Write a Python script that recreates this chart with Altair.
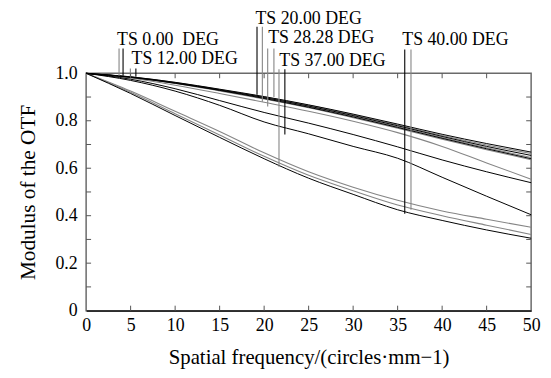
import altair as alt
import pandas as pd

# ---------------- data ----------------
freq = [0, 5, 10, 15, 20, 25, 30, 35, 40, 45, 50]

mtf_0T  = [1, 0.985, 0.962, 0.933, 0.902, 0.867, 0.828, 0.786, 0.743, 0.704, 0.668]
mtf_0S  = [1, 0.985, 0.961, 0.932, 0.900, 0.865, 0.825, 0.782, 0.738, 0.698, 0.662]
mtf_12T = [1, 0.984, 0.960, 0.930, 0.898, 0.862, 0.822, 0.779, 0.734, 0.692, 0.654]
mtf_12S = [1, 0.984, 0.959, 0.929, 0.896, 0.860, 0.819, 0.775, 0.729, 0.686, 0.645]
mtf_20T = [1, 0.983, 0.958, 0.928, 0.894, 0.857, 0.816, 0.772, 0.726, 0.682, 0.640]
mtf_20S = [1, 0.980, 0.950, 0.915, 0.878, 0.840, 0.798, 0.750, 0.692, 0.622, 0.554]
mtf_28T = [1, 0.975, 0.935, 0.885, 0.835, 0.790, 0.742, 0.690, 0.635, 0.585, 0.539]
mtf_28S = [1, 0.982, 0.957, 0.926, 0.892, 0.855, 0.813, 0.769, 0.722, 0.678, 0.636]
mtf_37T = [1, 0.970, 0.925, 0.865, 0.795, 0.745, 0.692, 0.642, 0.562, 0.482, 0.404]
mtf_37S = [1, 0.925, 0.840, 0.755, 0.665, 0.585, 0.520, 0.465, 0.420, 0.385, 0.351]
mtf_40S = [1, 0.920, 0.830, 0.740, 0.650, 0.570, 0.505, 0.445, 0.400, 0.360, 0.321]
mtf_40T = [1, 0.915, 0.822, 0.730, 0.640, 0.558, 0.490, 0.425, 0.380, 0.340, 0.305]

curve_names = ["0T", "0S", "12T", "12S", "20T", "20S", "28T", "28S", "37T", "37S", "40T", "40S"]
curve_shades = ["black", "gray", "black", "gray", "black", "gray", "black", "gray", "black", "gray", "black", "gray"]
curve_values = [mtf_0T, mtf_0S, mtf_12T, mtf_12S, mtf_20T, mtf_20S, mtf_28T, mtf_28S,
                mtf_37T, mtf_37S, mtf_40T, mtf_40S]

# field labels and their leader lines
label_text = ["TS 0.00\u00a0 DEG", "TS 12.00 DEG", "TS 20.00 DEG", "TS 28.28 DEG", "TS 37.00 DEG", "TS 40.00 DEG"]
label_freq = [3.48, 5.1, 19.03, 20.45, 21.7, 35.52]
label_mtf = [1.142, 1.058, 1.229, 1.15, 1.05, 1.142]

leader_freq = [3.7, 4.15, 4.97, 5.59, 19.2, 19.8, 20.4, 21.1, 21.67, 22.33, 35.8, 36.5]
leader_top = [1.104, 1.104, 1.02, 1.02, 1.196, 1.196, 1.104, 1.104, 1.017, 1.017, 1.1, 1.1]
leader_bottom = [0.99, 0.99, 0.985, 0.985, 0.91, 0.88, 0.86, 0.90, 0.606, 0.742, 0.408, 0.425]
leader_shade = ["gray", "black", "gray", "black", "black", "gray", "gray", "gray", "gray", "black", "black", "gray"]

x_ticks = [0, 5, 10, 15, 20, 25, 30, 35, 40, 45, 50]
y_ticks = [0, 0.1, 0.2, 0.3, 0.4, 0.5, 0.6, 0.7, 0.8, 0.9, 1.0]
y_labels = [0, 0.2, 0.4, 0.6, 0.8, 1.0]

# ---------------- tables ----------------
rows = []
for name, shade, vals in zip(curve_names, curve_shades, curve_values):
    for f, v in zip(freq, vals):
        rows.append({"curve": name, "shade": shade, "freq": f, "mtf": v})
df = pd.DataFrame(rows)

leaders = pd.DataFrame({"freq": leader_freq, "mtf": leader_bottom, "top": leader_top,
                        "shade": leader_shade})
labels = pd.DataFrame({"text": label_text, "freq": label_freq, "mtf": label_mtf})
xt = pd.DataFrame({"freq": x_ticks[1:-1]})
yt = pd.DataFrame({"mtf": y_ticks[1:-1]})

FONT = "Liberation Serif"
shade_scale = alt.Scale(domain=["black", "gray"], range=["#000000", "#858585"])
xscale = alt.Scale(domain=[0, 50], nice=False, zero=False)
yscale = alt.Scale(domain=[0, 1], nice=False, zero=False)

x_axis = alt.Axis(values=x_ticks, ticks=False, grid=False, domain=True, domainColor="#000000",
                  domainWidth=1.2, labelFont=FONT, labelFontSize=18, labelColor="#000",
                  labelPadding=6, labelFlush=False,
                  titleFont=FONT, titleFontSize=21, titleFontWeight="normal", titleColor="#000",
                  titlePadding=12)
y_axis = alt.Axis(values=y_labels, ticks=False, grid=False, domain=False,
                  labelExpr="datum.value == 0 ? '0' : format(datum.value, '.1f')",
                  labelFont=FONT, labelFontSize=18, labelColor="#000", labelPadding=9,
                  labelFlush=False,
                  titleFont=FONT, titleFontSize=21.5,
                  titleFontWeight="normal", titleColor="#000", titlePadding=16)

XT = "Spatial frequency/(circles\u00b7mm\u22121)"
YT = "Modulus of the OTF"


def X():
    return alt.X("freq:Q", scale=xscale, axis=x_axis, title=XT)


def Y():
    return alt.Y("mtf:Q", scale=yscale, axis=y_axis, title=YT)


base = alt.Chart(df)

gray_lines = base.transform_filter(alt.datum.shade == "gray").mark_line(
    strokeWidth=1.1, interpolate="monotone").encode(
    x=X(), y=Y(),
    detail="curve:N",
    color=alt.Color("shade:N", scale=shade_scale, legend=None),
)
black_lines = base.transform_filter(alt.datum.shade == "black").mark_line(
    strokeWidth=1.0, interpolate="monotone").encode(
    x=X(), y=Y(),
    detail="curve:N",
    color=alt.Color("shade:N", scale=shade_scale, legend=None),
)

leader_rules = alt.Chart(leaders).mark_rule(strokeWidth=1.1).encode(
    x=X(), y=Y(), y2="top:Q",
    color=alt.Color("shade:N", scale=shade_scale, legend=None),
)

label_marks = alt.Chart(labels).mark_text(
    font=FONT, fontSize=18, align="left", baseline="middle", color="#000").encode(
    x=X(), y=Y(), text="text:N",
)

tick_col = "#555555"
xt_bottom = alt.Chart(xt).mark_rule(color=tick_col, strokeWidth=1).encode(
    x=X(), y=alt.value(240), y2=alt.value(235))
xt_top = alt.Chart(xt).mark_rule(color=tick_col, strokeWidth=1).encode(
    x=X(), y=alt.value(0), y2=alt.value(5))
yt_left = alt.Chart(yt).mark_rule(color=tick_col, strokeWidth=1).encode(
    y=Y(), x=alt.value(0), x2=alt.value(5))
yt_right = alt.Chart(yt).mark_rule(color=tick_col, strokeWidth=1).encode(
    y=Y(), x=alt.value(445), x2=alt.value(450))

chart = alt.layer(
    gray_lines, black_lines, leader_rules, label_marks,
    xt_bottom, xt_top, yt_left, yt_right,
).properties(
    width=450, height=240,
    autosize=alt.AutoSizeParams(type="none"),
    padding={"left": 79, "top": 64, "right": 12, "bottom": 58},
    background="white",
).configure_view(stroke="#6a6a6a", strokeWidth=1.5)

chart.save("out.html", embed_options={"renderer": "svg", "actions": False})
